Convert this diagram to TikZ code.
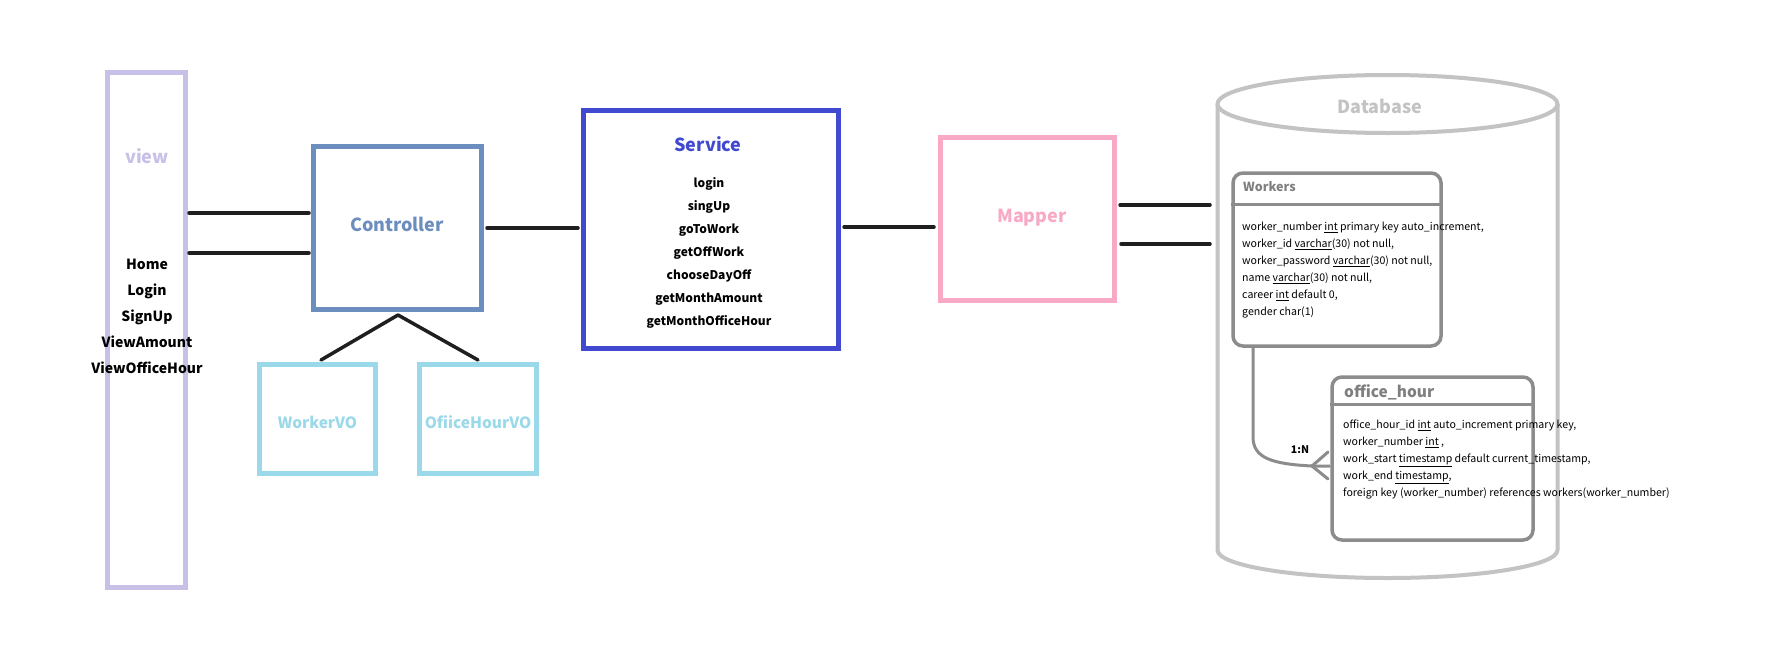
\documentclass[tikz,border=0pt]{standalone}
\usepackage{fontspec}
\setmainfont{Noto Sans CJK KR}
\definecolor{viewc}{HTML}{C8C0E6}
\definecolor{ctrlc}{HTML}{6C8EBF}
\definecolor{voc}{HTML}{9AD9EA}
\definecolor{servc}{HTML}{4049CF}
\definecolor{mapc}{HTML}{F8A9C6}
\definecolor{dbc}{HTML}{C3C3C3}
\definecolor{tblc}{HTML}{8C8C8C}
\definecolor{ttlc}{HTML}{7F7F7F}
\tikzset{
  box/.style={draw, line width=5pt, inner sep=0pt, fill=white},
  wire/.style={line width=3.5pt, line cap=round, black!88},
  tbl/.style={draw=tblc, line width=3.5pt, rounded corners=10pt, inner sep=0pt},
  lbl/.style={inner sep=0pt, font=\bfseries\fontsize{18}{22}\selectfont},
  items/.style={inner sep=0pt, align=center, font=\bfseries\fontsize{12}{23}\selectfont},
  body/.style={inner sep=0pt, anchor=north west, align=left, font=\fontsize{10.6}{17}\selectfont},
}
\begin{document}
\begin{tikzpicture}[x=1pt,y=-1pt]
\useasboundingbox[fill=white] (0,0) rectangle (1769,648);

% view
\node[box, draw=viewc, minimum width=78pt, minimum height=514.5pt] (view) at (146.5,329.75) {};
\node[lbl, text=viewc] (viewt) at (147,156) {view};
\node[items, font=\bfseries\fontsize{14}{26}\selectfont] (viewi) at (147,316.5) {Home\\Login\\SignUp\\ViewAmount\\ViewOfficeHour};

% controller
\node[box, draw=ctrlc, minimum width=168pt, minimum height=163pt] (ctrl) at (397.5,228) {};
\node[lbl, text=ctrlc] (ctrlt) at (397,224) {Controller};

% VOs
\node[box, draw=voc, minimum width=116pt, minimum height=109pt] (wvo) at (317.5,419) {};
\node[lbl, text=voc, font=\bfseries\fontsize{15.5}{20}\selectfont] (wvot) at (317.5,422) {WorkerVO};
\node[box, draw=voc, minimum width=117pt, minimum height=109pt] (ovo) at (478,419) {};
\node[lbl, text=voc, font=\bfseries\fontsize{15.5}{20}\selectfont] (ovot) at (478,422) {OfiiceHourVO};

% service
\node[box, draw=servc, minimum width=255pt, minimum height=238pt] (serv) at (711,229.5) {};
\node[lbl, text=servc] (servt) at (708,144) {Service};
\node[items] (servi) at (709,253) {login\\singUp\\goToWork\\getOffWork\\chooseDayOff\\getMonthAmount\\getMonthOfficeHour};

% mapper
\node[box, draw=mapc, minimum width=174pt, minimum height=163pt] (map) at (1027.5,219) {};
\node[lbl, text=mapc] (mapt) at (1032,218) {Mapper};

% database cylinder
\draw[dbc, line width=4pt] (1217.5,104) -- (1217.5,550)
  .. controls (1217.5,565.5) and (1293.6,578) .. (1387.5,578)
  .. controls (1481.4,578) and (1557.5,565.5) .. (1557.5,550) -- (1557.5,104);
\draw[dbc, line width=4pt, fill=white] (1387.5,104) ellipse [x radius=170, y radius=29];
\node[lbl, text=dbc] (dbt) at (1380,106) {Database};

% workers table
\node[tbl, fill=white, minimum width=208pt, minimum height=173pt] (workers) at (1337,259.5) {};
\draw[tblc, line width=3pt] (workers.west |- 0,204) -- (workers.east |- 0,204);
\node[inner sep=0pt, anchor=west, text=ttlc, font=\bfseries\fontsize{12.5}{15}\selectfont] (workt) at (1243,187) {Workers};
\node[body] (workb) at (1242,222) {worker\_number \underline{int} primary key auto\_increment,\\
worker\_id \underline{varchar}(30) not null,\\
worker\_password \underline{varchar}(30) not null,\\
name \underline{varchar}(30) not null,\\
career \underline{int} default 0,\\
gender char(1)};

% office_hour table
\node[tbl, fill=white, minimum width=201pt, minimum height=163pt] (office) at (1432.5,458.5) {};
\draw[tblc, line width=3pt] (office.west |- 0,404) -- (office.east |- 0,404);
\node[inner sep=0pt, anchor=west, text=ttlc, font=\bfseries\fontsize{15.5}{18}\selectfont] (offt) at (1344,392) {office\_hour};
\node[body] (offb) at (1343,420) {office\_hour\_id \underline{int} auto\_increment primary key,\\
worker\_number \underline{int} ,\\
work\_start \underline{timestamp} default current\_timestamp,\\
work\_end \underline{timestamp},\\
foreign key (worker\_number) references workers(worker\_number)};

% relation
\coordinate (rs) at (1253,348);
\coordinate (rt) at (1312,466);
\coordinate (re) at (office.west |- 0,466);
\draw[tblc, line width=3pt] (rs) -- (1253,437) .. controls (1253,458) and (1272,464) .. (rt) -- (re);
\draw[tblc, line width=3pt, line cap=round] (1328,452) -- (rt) -- (1328,479);
\node[inner sep=0pt, font=\bfseries\fontsize{10.5}{12}\selectfont] (rel) at (1300,450) {1:N};

% connectors
\coordinate (v1) at (189,213); \coordinate (c1) at (309,213);
\coordinate (v2) at (189,253); \coordinate (c2) at (309,253);
\draw[wire] (v1) -- (c1);
\draw[wire] (v2) -- (c2);
\coordinate (c3) at (487,228); \coordinate (s1) at (578,228);
\draw[wire] (c3) -- (s1);
\coordinate (s2) at (844,227); \coordinate (m1) at (934,227);
\draw[wire] (s2) -- (m1);
\coordinate (m2) at (1120,205); \coordinate (d1) at (1210,205);
\coordinate (m3) at (1121,244); \coordinate (d2) at (1210,244);
\draw[wire] (m2) -- (d1);
\draw[wire] (m3) -- (d2);
\coordinate (cb) at (398,315);
\coordinate (w1) at (321,360);
\coordinate (o1) at (478,360);
\draw[wire] (cb) -- (w1);
\draw[wire] (cb) -- (o1);
\end{tikzpicture}
\end{document}
